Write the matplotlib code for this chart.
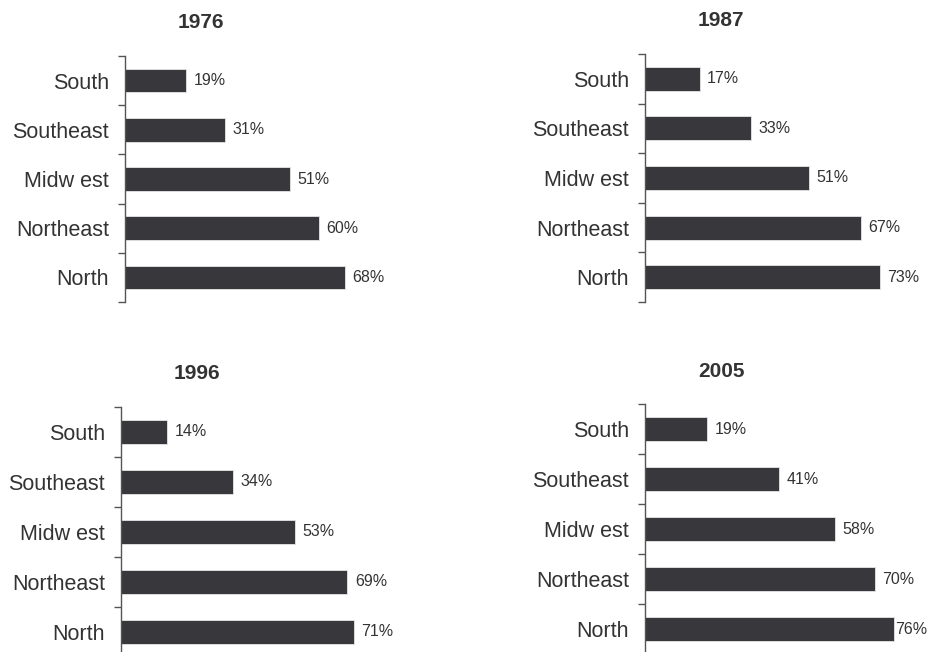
import matplotlib
matplotlib.use("Agg")
import matplotlib.pyplot as plt
from matplotlib.transforms import offset_copy

plt.rcParams['font.family'] = ['Liberation Sans', 'DejaVu Sans']

categories = ["South", "Southeast", "Midw est", "Northeast", "North"]
years = ["1976", "1987", "1996", "2005"]
values_1976 = [19, 31, 51, 60, 68]
values_1987 = [17, 33, 51, 67, 73]
values_1996 = [14, 34, 53, 69, 71]
values_2005 = [19, 41, 58, 70, 76]
series = [values_1976, values_1987, values_1996, values_2005]

W, H = 930, 652
fig = plt.figure(figsize=(W / 100, H / 100), dpi=100)

# axis x (px), top y (px), px per category, px per percent
layout = [
    (125, 56, 49.2, 3.23),
    (645, 54, 49.6, 3.22),
    (121, 406.7, 50.0, 3.28),
    (645, 404.3, 50.0, 3.28),
]

bar_color = "#38373b"
text_color = "#333333"
axis_color = "#555555"
label_w_px = 34

for year, vals, (ax_x, top_y, cat_px, pct_px) in zip(years, series, layout):
    n = len(categories)
    width_px = 100 * pct_px
    height_px = n * cat_px
    ax = fig.add_axes([ax_x / W, 1 - (top_y + height_px) / H, width_px / W, height_px / H])
    ax.set_xlim(0, 100)
    ax.set_ylim(n - 0.5, -0.5)
    pos = list(range(n))
    ax.barh(pos, vals, height=0.48, color=bar_color, edgecolor="#e6e6e6", linewidth=0.6)
    for p, v in zip(pos, vals):
        gap_px = 7.5
        if ax_x + v * pct_px + gap_px + label_w_px > W - 1:
            gap_px = 1.0
        ax.annotate(f"{v}%", xy=(v, p), xytext=(gap_px * 0.72, 0), textcoords="offset points",
                    va="center", ha="left", fontsize=11.5, color=text_color)
    for s in ["top", "right", "bottom"]:
        ax.spines[s].set_visible(False)
    ax.spines["left"].set_color(axis_color)
    ax.spines["left"].set_linewidth(1.0)
    ax.set_xticks([])
    ax.set_yticks([i - 0.5 for i in range(n + 1)])
    ax.set_yticklabels([])
    ax.tick_params(axis="y", which="major", length=5, width=1.0, color=axis_color, direction="out")
    ax.set_yticks(pos, minor=True)
    ax.set_yticklabels(categories, minor=True)
    ax.tick_params(axis="y", which="minor", length=0, pad=11.5, labelsize=15.5, labelcolor=text_color)
    ax.patch.set_alpha(0)
    tr = offset_copy(ax.transAxes, fig=fig, x=76 * 0.72, y=33 * 0.72, units="points")
    ax.text(0, 1, year, transform=tr, ha="center", va="center", fontsize=15,
            fontweight="bold", color=text_color)

fig.savefig("out.png", dpi=100)
